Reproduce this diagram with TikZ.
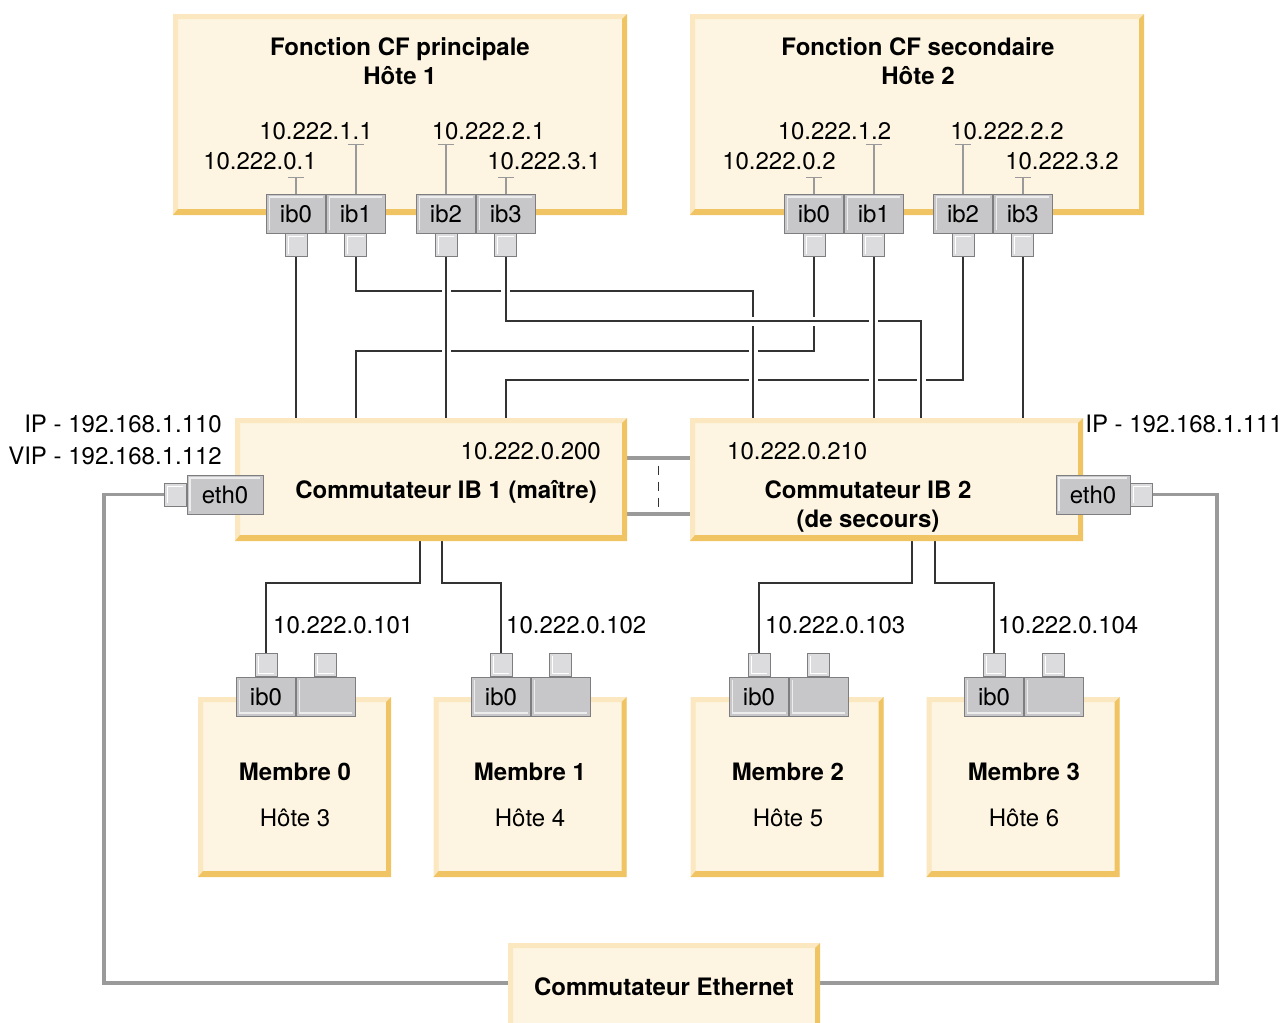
\documentclass[tikz,border=0pt]{standalone}
\usepackage{fontspec}
\setmainfont{TeX Gyre Heros}
\usepackage{tikz}
\usetikzlibrary{positioning}
\usetikzlibrary{backgrounds}

\definecolor{boxfill}{HTML}{FDF5E1}
\definecolor{boxlight}{HTML}{FBE7C0}
\definecolor{boxdark}{HTML}{F0C462}
\definecolor{portfill}{HTML}{C7C7C9}
\definecolor{portedge}{HTML}{7E7E80}
\definecolor{portlight}{HTML}{EDEDEE}
\definecolor{plugfill}{HTML}{DCDCDE}
\definecolor{wire}{HTML}{333333}
\definecolor{ethwire}{HTML}{9A9A9A}

\tikzset{
  hostbox/.style={fill=boxfill, inner sep=0pt, path picture={
    \fill[boxlight] (path picture bounding box.south west) |- (path picture bounding box.north east)
      -- ++(-5pt,-5pt) -| ([shift={(5pt,6pt)}]path picture bounding box.south west) -- cycle;
    \fill[boxdark] (path picture bounding box.south west) -| (path picture bounding box.north east)
      -- ++(-5pt,-5pt) |- ([shift={(5pt,6pt)}]path picture bounding box.south west) -- cycle;
  }},
  port/.style={draw=portedge, fill=portfill, line width=0.8pt, inner sep=0pt,
    minimum width=59pt, minimum height=39pt, font=\fontsize{24}{28}\selectfont,
    path picture={\draw[portlight,line width=1.2pt]
      ([shift={(3pt,3pt)}]path picture bounding box.south west) |- ([shift={(-3pt,-3pt)}]path picture bounding box.north east);}},
  portup/.style={port, path picture={\draw[portlight,line width=1.2pt]
      ([shift={(3pt,-3pt)}]path picture bounding box.north west) |- ([shift={(-3pt,3pt)}]path picture bounding box.south east);}},
  plug/.style={draw=portedge, fill=plugfill, line width=0.8pt, inner sep=0pt,
    minimum width=22pt, minimum height=23pt,
    path picture={\draw[white,line width=1pt]
      ([shift={(3pt,3pt)}]path picture bounding box.south west) |- ([shift={(-3pt,-3pt)}]path picture bounding box.north east);}},
  plugup/.style={plug, path picture={\draw[white,line width=1pt]
      ([shift={(3pt,-3pt)}]path picture bounding box.north west) |- ([shift={(-3pt,3pt)}]path picture bounding box.south east);}},
  title/.style={font=\fontsize{24}{29}\selectfont\bfseries, align=center, inner sep=0pt},
  ip/.style={font=\fontsize{24}{28}\selectfont, inner sep=0pt},
  memtext/.style={font=\fontsize{24}{46}\selectfont, align=center, inner sep=0pt},
  link/.style={draw=wire, line width=1.6pt, preaction={draw=white, line width=9pt}},
  ethlink/.style={draw=ethwire, line width=3.6pt},
  stem/.style={draw=ethwire, line width=1.5pt},
}

\begin{document}
\begin{tikzpicture}[x=1pt,y=-1pt]
\useasboundingbox (0,0) rectangle (1286,1023);
\clip (0,0) rectangle (1286,1023);

% CF hosts
\node[hostbox, minimum width=454pt, minimum height=201pt] (cf1) at (400,114.5) {};
\node[hostbox, minimum width=454pt, minimum height=201pt] (cf2) at (917,114.5) {};
\node[title] (cf1name) at (400,61.5) {Fonction CF principale\\Hôte 1};
\node[title] (cf2name) at (918,61.5) {Fonction CF secondaire\\Hôte 2};

\node[port] (h1ib0) at (296,213.5) {ib0};
\node[port, right=0pt of h1ib0] (h1ib1) {ib1};
\node[port] (h1ib2) at (446,213.5) {ib2};
\node[port, right=0pt of h1ib2] (h1ib3) {ib3};
\node[plug, below=0pt of h1ib0] (h1p0) {};
\node[plug, below=0pt of h1ib1] (h1p1) {};
\node[plug, below=0pt of h1ib2] (h1p2) {};
\node[plug, below=0pt of h1ib3] (h1p3) {};

\node[port] (h2ib0) at (814,213.5) {ib0};
\node[port, right=0pt of h2ib0] (h2ib1) {ib1};
\node[port] (h2ib2) at (963,213.5) {ib2};
\node[port, right=0pt of h2ib2] (h2ib3) {ib3};
\node[plug, below=0pt of h2ib0] (h2p0) {};
\node[plug, below=0pt of h2ib1] (h2p1) {};
\node[plug, below=0pt of h2ib2] (h2p2) {};
\node[plug, below=0pt of h2ib3] (h2p3) {};

\draw[stem] (h1ib0.north) -- ++(0,-16) ++(-8,0) -- ++(16,0);
\draw[stem] (h1ib1.north) -- ++(0,-49) ++(-8,0) -- ++(16,0);
\draw[stem] (h1ib2.north) -- ++(0,-49) ++(-8,0) -- ++(16,0);
\draw[stem] (h1ib3.north) -- ++(0,-16) ++(-8,0) -- ++(16,0);
\draw[stem] (h2ib0.north) -- ++(0,-16) ++(-8,0) -- ++(16,0);
\draw[stem] (h2ib1.north) -- ++(0,-49) ++(-8,0) -- ++(16,0);
\draw[stem] (h2ib2.north) -- ++(0,-49) ++(-8,0) -- ++(16,0);
\draw[stem] (h2ib3.north) -- ++(0,-16) ++(-8,0) -- ++(16,0);

\node[ip] (h1ip0) at (260,161) {10.222.0.1};
\node[ip] (h1ip1) at (316,131) {10.222.1.1};
\node[ip] (h1ip2) at (488.5,131) {10.222.2.1};
\node[ip] (h1ip3) at (544,161) {10.222.3.1};
\node[ip] (h2ip0) at (779,161) {10.222.0.2};
\node[ip] (h2ip1) at (834.5,131) {10.222.1.2};
\node[ip] (h2ip2) at (1007,131) {10.222.2.2};
\node[ip] (h2ip3) at (1062,161) {10.222.3.2};

% IB switches
\node[hostbox, minimum width=392pt, minimum height=123pt] (sw1) at (431,479.5) {};
\node[hostbox, minimum width=393pt, minimum height=123pt] (sw2) at (886.5,479.5) {};
\node[ip, anchor=east] (sw1ip) at (601,451) {10.222.0.200};
\node[title] (sw1name) at (446,492) {Commutateur IB 1 (maître)};
\node[ip, anchor=west] (sw2ip) at (727,451) {10.222.0.210};
\node[title] (sw2name) at (868,507) {Commutateur IB 2\\(de secours)};

\node[port, minimum width=76pt] (sw1eth) at (225,494.5) {eth0};
\node[plug, left=0pt of sw1eth] (sw1plug) {};
\node[port, minimum width=74pt] (sw2eth) at (1093,494.5) {eth0};
\node[plug, right=0pt of sw2eth] (sw2plug) {};
\node[ip, anchor=east] (sw1addr) at (222,424) {IP - 192.168.1.110};
\node[ip, anchor=east] (sw1vip) at (222,456) {VIP - 192.168.1.112};
\node[ip, anchor=east] (sw2addr) at (1283,424) {IP - 192.168.1.111};

% members
\node[hostbox, minimum width=193pt, minimum height=180pt] (mb0) at (294.5,787) {};
\node[hostbox, minimum width=193pt, minimum height=180pt] (mb1) at (530,787) {};
\node[hostbox, minimum width=193pt, minimum height=180pt] (mb2) at (787,787) {};
\node[hostbox, minimum width=193pt, minimum height=180pt] (mb3) at (1023,787) {};
\node[memtext] (mb0name) at (295,795) {\textbf{Membre 0}\\Hôte 3};
\node[memtext] (mb1name) at (530,795) {\textbf{Membre 1}\\Hôte 4};
\node[memtext] (mb2name) at (788,795) {\textbf{Membre 2}\\Hôte 5};
\node[memtext] (mb3name) at (1024,795) {\textbf{Membre 3}\\Hôte 6};

\node[portup] (m0ib0) at (266,696.5) {ib0};
\node[portup, right=0pt of m0ib0] (m0ib1) {};
\node[portup] (m1ib0) at (501,696.5) {ib0};
\node[portup, right=0pt of m1ib0] (m1ib1) {};
\node[portup] (m2ib0) at (759,696.5) {ib0};
\node[portup, right=0pt of m2ib0] (m2ib1) {};
\node[portup] (m3ib0) at (994,696.5) {ib0};
\node[portup, right=0pt of m3ib0] (m3ib1) {};
\node[plugup, above=0pt of m0ib0] (m0p0) {};
\node[plugup, above=0pt of m0ib1] (m0p1) {};
\node[plugup, above=0pt of m1ib0] (m1p0) {};
\node[plugup, above=0pt of m1ib1] (m1p1) {};
\node[plugup, above=0pt of m2ib0] (m2p0) {};
\node[plugup, above=0pt of m2ib1] (m2p1) {};
\node[plugup, above=0pt of m3ib0] (m3p0) {};
\node[plugup, above=0pt of m3ib1] (m3p1) {};

\node[ip, anchor=west] (m0ip) at (273,625) {10.222.0.101};
\node[ip, anchor=west] (m1ip) at (506,625) {10.222.0.102};
\node[ip, anchor=west] (m2ip) at (765,625) {10.222.0.103};
\node[ip, anchor=west] (m3ip) at (998,625) {10.222.0.104};

% ethernet switch
\node[hostbox, minimum width=312pt, minimum height=88pt, font=\fontsize{24}{28}\selectfont\bfseries] (esw) at (664,987) {Commutateur Ethernet};

\begin{pgfonlayer}{background}
\coordinate (sw2in1) at (753,418);
\coordinate (sw2in3) at (921,418);
\coordinate (sw1out0) at (420,541);
\coordinate (sw1out1) at (442,541);
\coordinate (sw2out2) at (912,541);
\coordinate (sw2out3) at (935,541);

% cross links, drawn in order so the gaps fall right
\draw[link] (h2p0.south) -- ++(0,94) -| (h1p1.south |- sw1.north);
\draw[link] (h2p2.south) -- ++(0,123) -| (h1p3.south |- sw1.north);
\draw[link] (h1p1.south) -- ++(0,34) -| (sw2in1);
\draw[link] (h1p3.south) -- ++(0,64) -| (sw2in3);
\draw[link] (h1p2.south) -- (h1p2.south |- sw1.north);
\draw[link] (h2p1.south) -- (h2p1.south |- sw2.north);
\draw[link] (h1p0.south) -- (h1p0.south |- sw1.north);
\draw[link] (h2p3.south) -- (h2p3.south |- sw2.north);

\draw[link] (sw1out0) -- ++(0,42) -| (m0p0.north);
\draw[link] (sw1out1) -- ++(0,42) -| (m1p0.north);
\draw[link] (sw2out2) -- ++(0,42) -| (m2p0.north);
\draw[link] (sw2out3) -- ++(0,42) -| (m3p0.north);

\draw[ethlink] ([yshift=21.5pt]sw1.east) -- ([yshift=21.5pt]sw2.west);
\draw[ethlink] ([yshift=-34.5pt]sw1.east) -- ([yshift=-34.5pt]sw2.west);
\path (sw1.east) -- (sw2.west) coordinate[pos=.5] (swmid);
\draw[wire, line width=1.2pt, dash pattern=on 9pt off 7pt] ([yshift=14pt]swmid) -- ([yshift=-28pt]swmid);

\draw[ethlink] (sw1plug.west) -- ++(-60,0) |- ([yshift=4pt]esw.west);
\draw[ethlink] (sw2plug.east) -- ++(64,0) |- ([yshift=4pt]esw.east);
\end{pgfonlayer}
\end{tikzpicture}
\end{document}
